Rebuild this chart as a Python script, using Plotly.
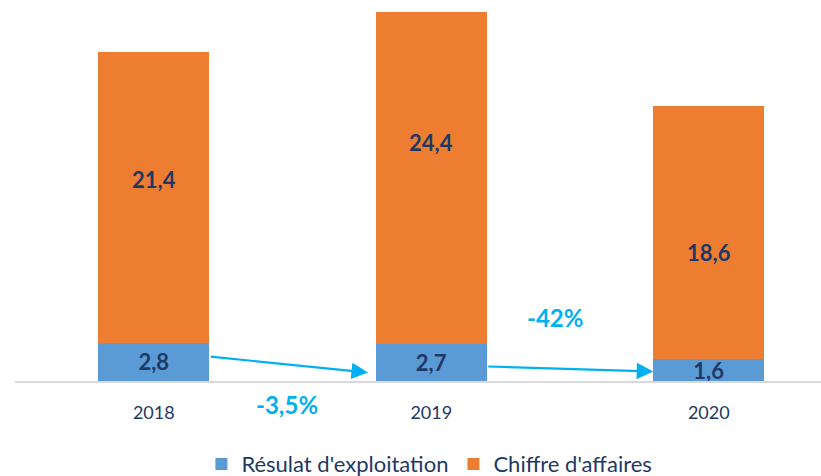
import plotly.graph_objects as go

# ---- data ----
years = ["2018", "2019", "2020"]
resultat = [2.8, 2.7, 1.6]
chiffre = [21.4, 24.4, 18.6]
resultat_labels = ["2,8", "2,7", "1,6"]
chiffre_labels = ["21,4", "24,4", "18,6"]
variation_labels = ["-3,5%", "-42%"]

# ---- styling / placement ----
BLUE = "#5B9BD5"
ORANGE = "#ED7D31"
NAVY = "#1F3864"
CYAN = "#00B0F0"
FONT = "Lato"
BAR_W = 0.4
chiffre_label_y = [14.8, 17.5, 9.45]      # label placement inside orange segments
arrow_tail_y = [1.8, 1.07]
arrow_head_y = [0.62, 0.70]
arrow_head_gap = [0.028, 0.0]
variation_pos = [(0.48, -0.062), (1.446, 0.166)]   # (x data, y paper)

x_idx = list(range(len(years)))

fig = go.Figure()
fig.add_trace(go.Bar(
    x=x_idx, y=resultat, name="Résulat d'exploitation",
    marker=dict(color=BLUE, line=dict(width=0)), width=BAR_W,
    text=resultat_labels, textposition="inside", insidetextanchor="middle",
    constraintext="none",
    textfont=dict(family=FONT, size=22, color=NAVY, weight="bold"),
))
fig.add_trace(go.Bar(
    x=x_idx, y=chiffre, name="Chiffre d'affaires",
    marker=dict(color=ORANGE, line=dict(width=0)), width=BAR_W,
))

annotations = []
for i, (lab, ly) in enumerate(zip(chiffre_labels, chiffre_label_y)):
    annotations.append(dict(
        x=i, y=ly, xref="x", yref="y", text=lab, showarrow=False,
        xanchor="center", yanchor="middle",
        font=dict(family=FONT, size=22, color=NAVY, weight="bold"),
    ))

# arrows between consecutive résultat bars
for i in range(len(years) - 1):
    annotations.append(dict(
        x=i + 1 - BAR_W / 2 - arrow_head_gap[i], y=arrow_head_y[i],
        ax=i + BAR_W / 2, ay=arrow_tail_y[i],
        xref="x", yref="y", axref="x", ayref="y",
        text="", showarrow=True, arrowhead=2, arrowsize=1.5,
        arrowwidth=2.2, arrowcolor=CYAN, standoff=0, startstandoff=0,
    ))

for lab, (vx, vy) in zip(variation_labels, variation_pos):
    annotations.append(dict(
        x=vx, y=vy, xref="x", yref="paper", text=lab, showarrow=False,
        xanchor="center", yanchor="middle",
        font=dict(family=FONT, size=24, color=CYAN, weight="bold"),
    ))

fig.update_layout(
    barmode="stack",
    width=821, height=476,
    margin=dict(l=15, r=0, t=0, b=95, autoexpand=False),
    paper_bgcolor="white", plot_bgcolor="white",
    showlegend=True,
    legend=dict(
        orientation="h", xref="container", yref="container",
        x=0.523, xanchor="center", y=0.025, yanchor="middle",
        font=dict(family=FONT, size=22, color=NAVY),
        traceorder="normal",
    ),
    annotations=annotations,
    xaxis=dict(
        tickmode="array", tickvals=x_idx, ticktext=years,
        range=[-0.5, 2.4045], showgrid=False, zeroline=False,
        showline=True, linecolor="#D9D9D9", linewidth=2,
        ticks="", ticklabelstandoff=14,
        tickfont=dict(family=FONT, size=18, color=NAVY),
        fixedrange=True,
    ),
    yaxis=dict(
        range=[0, 28], showgrid=False, zeroline=False, showline=False,
        showticklabels=False, ticks="", fixedrange=True,
    ),
)

fig.write_html(
    "out.html",
    config={"displayModeBar": False},
    post_script="document.body.style.margin='0';document.body.style.overflow='hidden';",
)
